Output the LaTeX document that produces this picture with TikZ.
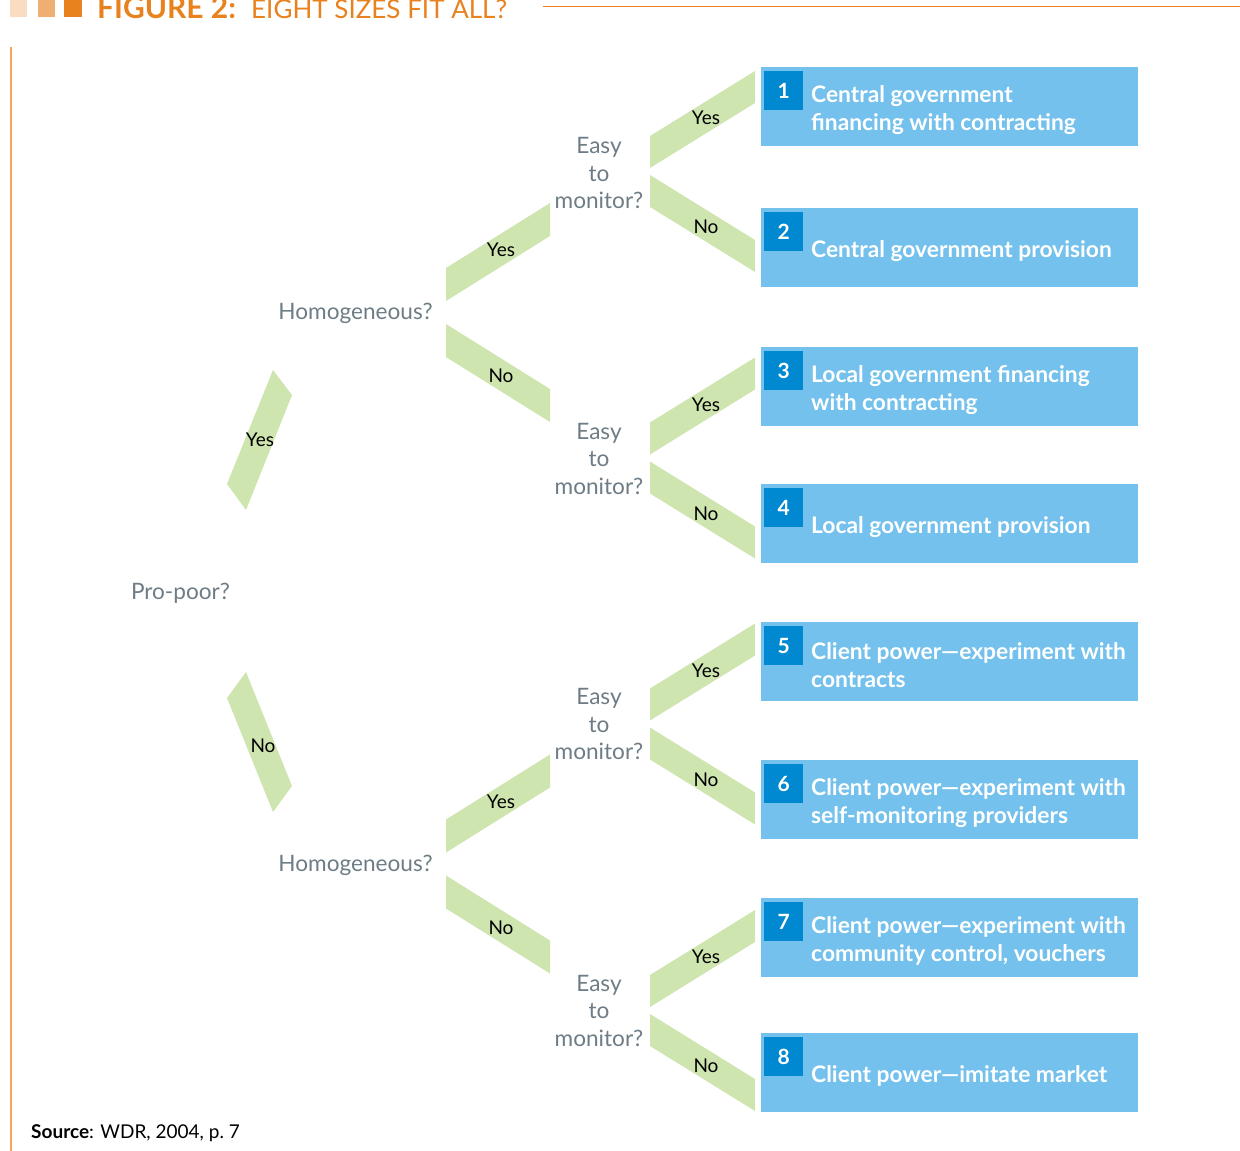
\documentclass[tikz,border=0pt]{standalone}
\usepackage{fontspec}
\setmainfont{Lato}
\definecolor{boxblue}{HTML}{73C1EC}
\definecolor{numblue}{HTML}{0088D1}
\definecolor{leafgreen}{HTML}{CFE5B0}
\definecolor{qgrey}{HTML}{6D7C85}
\definecolor{titleorange}{HTML}{E8821E}
\definecolor{peach}{HTML}{FADCC2}
\definecolor{midorange}{HTML}{F0AF72}
\definecolor{ruleorange}{HTML}{F2A65A}

% one outcome box: name, top edge, number, text
\newcommand\outcome[4]{%
  \node[outbox, anchor=north west] (#1) at (761,#2) {};
  \node[numbox, anchor=north west] (#1n) at (764,#2+4) {#3};
  \node[outtext, anchor=west] (#1t) at (811,#2+43) {#4};
}

\begin{document}
\begin{tikzpicture}[x=1pt,y=-1pt,
  outbox/.style={fill=boxblue, inner sep=0pt, minimum width=377pt, minimum height=79pt},
  numbox/.style={fill=numblue, text=white, inner sep=0pt, minimum size=39pt,
    font=\fontsize{21}{24}\selectfont\bfseries},
  outtext/.style={text=white, inner sep=0pt, align=left,
    font=\fontsize{22.8}{28}\selectfont\bfseries},
  question/.style={text=qgrey, inner sep=0pt, align=center,
    font=\fontsize{22.6}{27.5}\selectfont},
  ans/.style={text=black, inner sep=0pt, font=\fontsize{19}{22}\selectfont},
  leaf/.style={fill=leafgreen},
  % branch bands leading to the outcome boxes
  leafyes/.pic={\fill[leaf] (0,-35.5) -- (105,-100.5) -- (105,-68.5) -- (0,-3.5) -- cycle;
                \node[ans] (-lab) at (56,-53.5) {Yes};},
  leafno/.pic={\fill[leaf] (0,3.5) -- (105,68.5) -- (105,100.5) -- (0,35.5) -- cycle;
               \node[ans] (-lab) at (56,55.5) {No};},
  % branch bands leading to the monitoring questions
  midyes/.pic={\fill[leaf] (0,-44.5) -- (104,-109.5) -- (104,-76.5) -- (0,-11.5) -- cycle;
               \node[ans] (-lab) at (55,-62.5) {Yes};},
  midno/.pic={\fill[leaf] (0,11.5) -- (104,76.5) -- (104,109.5) -- (0,44.5) -- cycle;
              \node[ans] (-lab) at (55,63.5) {No};}
]
\useasboundingbox (0,0) rectangle (1240,1151);
\clip (0,0) rectangle (1240,1151);

% heading
\fill[peach] (10,-4) rectangle (27,17);
\fill[midorange] (37.5,-4) rectangle (55,17);
\fill[titleorange] (64,-4) rectangle (82,17);
\node[anchor=base west, inner sep=0pt, text=titleorange,
  font=\fontsize{30}{32}\selectfont\bfseries] (fig) at (97,18) {FIGURE 2:};
\node[anchor=base west, inner sep=0pt, text=titleorange,
  font=\fontsize{26}{30}\selectfont] (ttl) at (251,18) {EIGHT SIZES FIT ALL?};
\draw[titleorange, line width=1.4pt] (543,6.5) -- (1240,6.5);
\draw[ruleorange, line width=2pt] (11,47) -- (11,1151);

% root question and its two branches
\node[question] (root) at (180.5,593) {Pro-poor?};
\fill[leaf] (273,370) -- (292,395) -- (246,510) -- (227,484) -- cycle;
\node[ans] (rootyes) at (260,440) {Yes};
\fill[leaf] (246,672) -- (227,698) -- (273,812) -- (292,786) -- cycle;
\node[ans] (rootno) at (263,746) {No};

% homogeneity questions
\node[question] (h1) at (355.5,313) {Homogeneous?};
\node[question] (h2) at (355.5,865) {Homogeneous?};
\coordinate (hf1) at (446,312.5);
\coordinate (hf2) at (446,864);
\pic (hy1) at (hf1) {midyes};
\pic (hn1) at (hf1) {midno};
\pic (hy2) at (hf2) {midyes};
\pic (hn2) at (hf2) {midno};

% monitoring questions
\node[question] (q1) at (599,173) {Easy\\to\\monitor?};
\node[question] (q2) at (599,458.5) {Easy\\to\\monitor?};
\node[question] (q3) at (599,724) {Easy\\to\\monitor?};
\node[question] (q4) at (599,1010.5) {Easy\\to\\monitor?};
\coordinate (qf1) at (650,171.5);
\coordinate (qf2) at (650,458);
\coordinate (qf3) at (650,724);
\coordinate (qf4) at (650,1010.5);
\pic (qy1) at (qf1) {leafyes};
\pic (qn1) at (qf1) {leafno};
\pic (qy2) at (qf2) {leafyes};
\pic (qn2) at (qf2) {leafno};
\pic (qy3) at (qf3) {leafyes};
\pic (qn3) at (qf3) {leafno};
\pic (qy4) at (qf4) {leafyes};
\pic (qn4) at (qf4) {leafno};

% outcomes
\outcome{o1}{67}{1}{Central government\\financing with contracting}
\outcome{o2}{208}{2}{Central government provision}
\outcome{o3}{347}{3}{Local government financing\\with contracting}
\outcome{o4}{484}{4}{Local government provision}
\outcome{o5}{622}{5}{Client power---experiment with\\contracts}
\outcome{o6}{760}{6}{Client power---experiment with\\self-monitoring providers}
\outcome{o7}{898}{7}{Client power---experiment with\\community control, vouchers}
\outcome{o8}{1033}{8}{Client power---imitate market}

% source line
\node[anchor=base west, inner sep=0pt, text=black,
  font=\fontsize{19}{22}\selectfont] (src) at (31,1138) {\textbf{Source}: WDR, 2004, p.~7};
\end{tikzpicture}
\end{document}
